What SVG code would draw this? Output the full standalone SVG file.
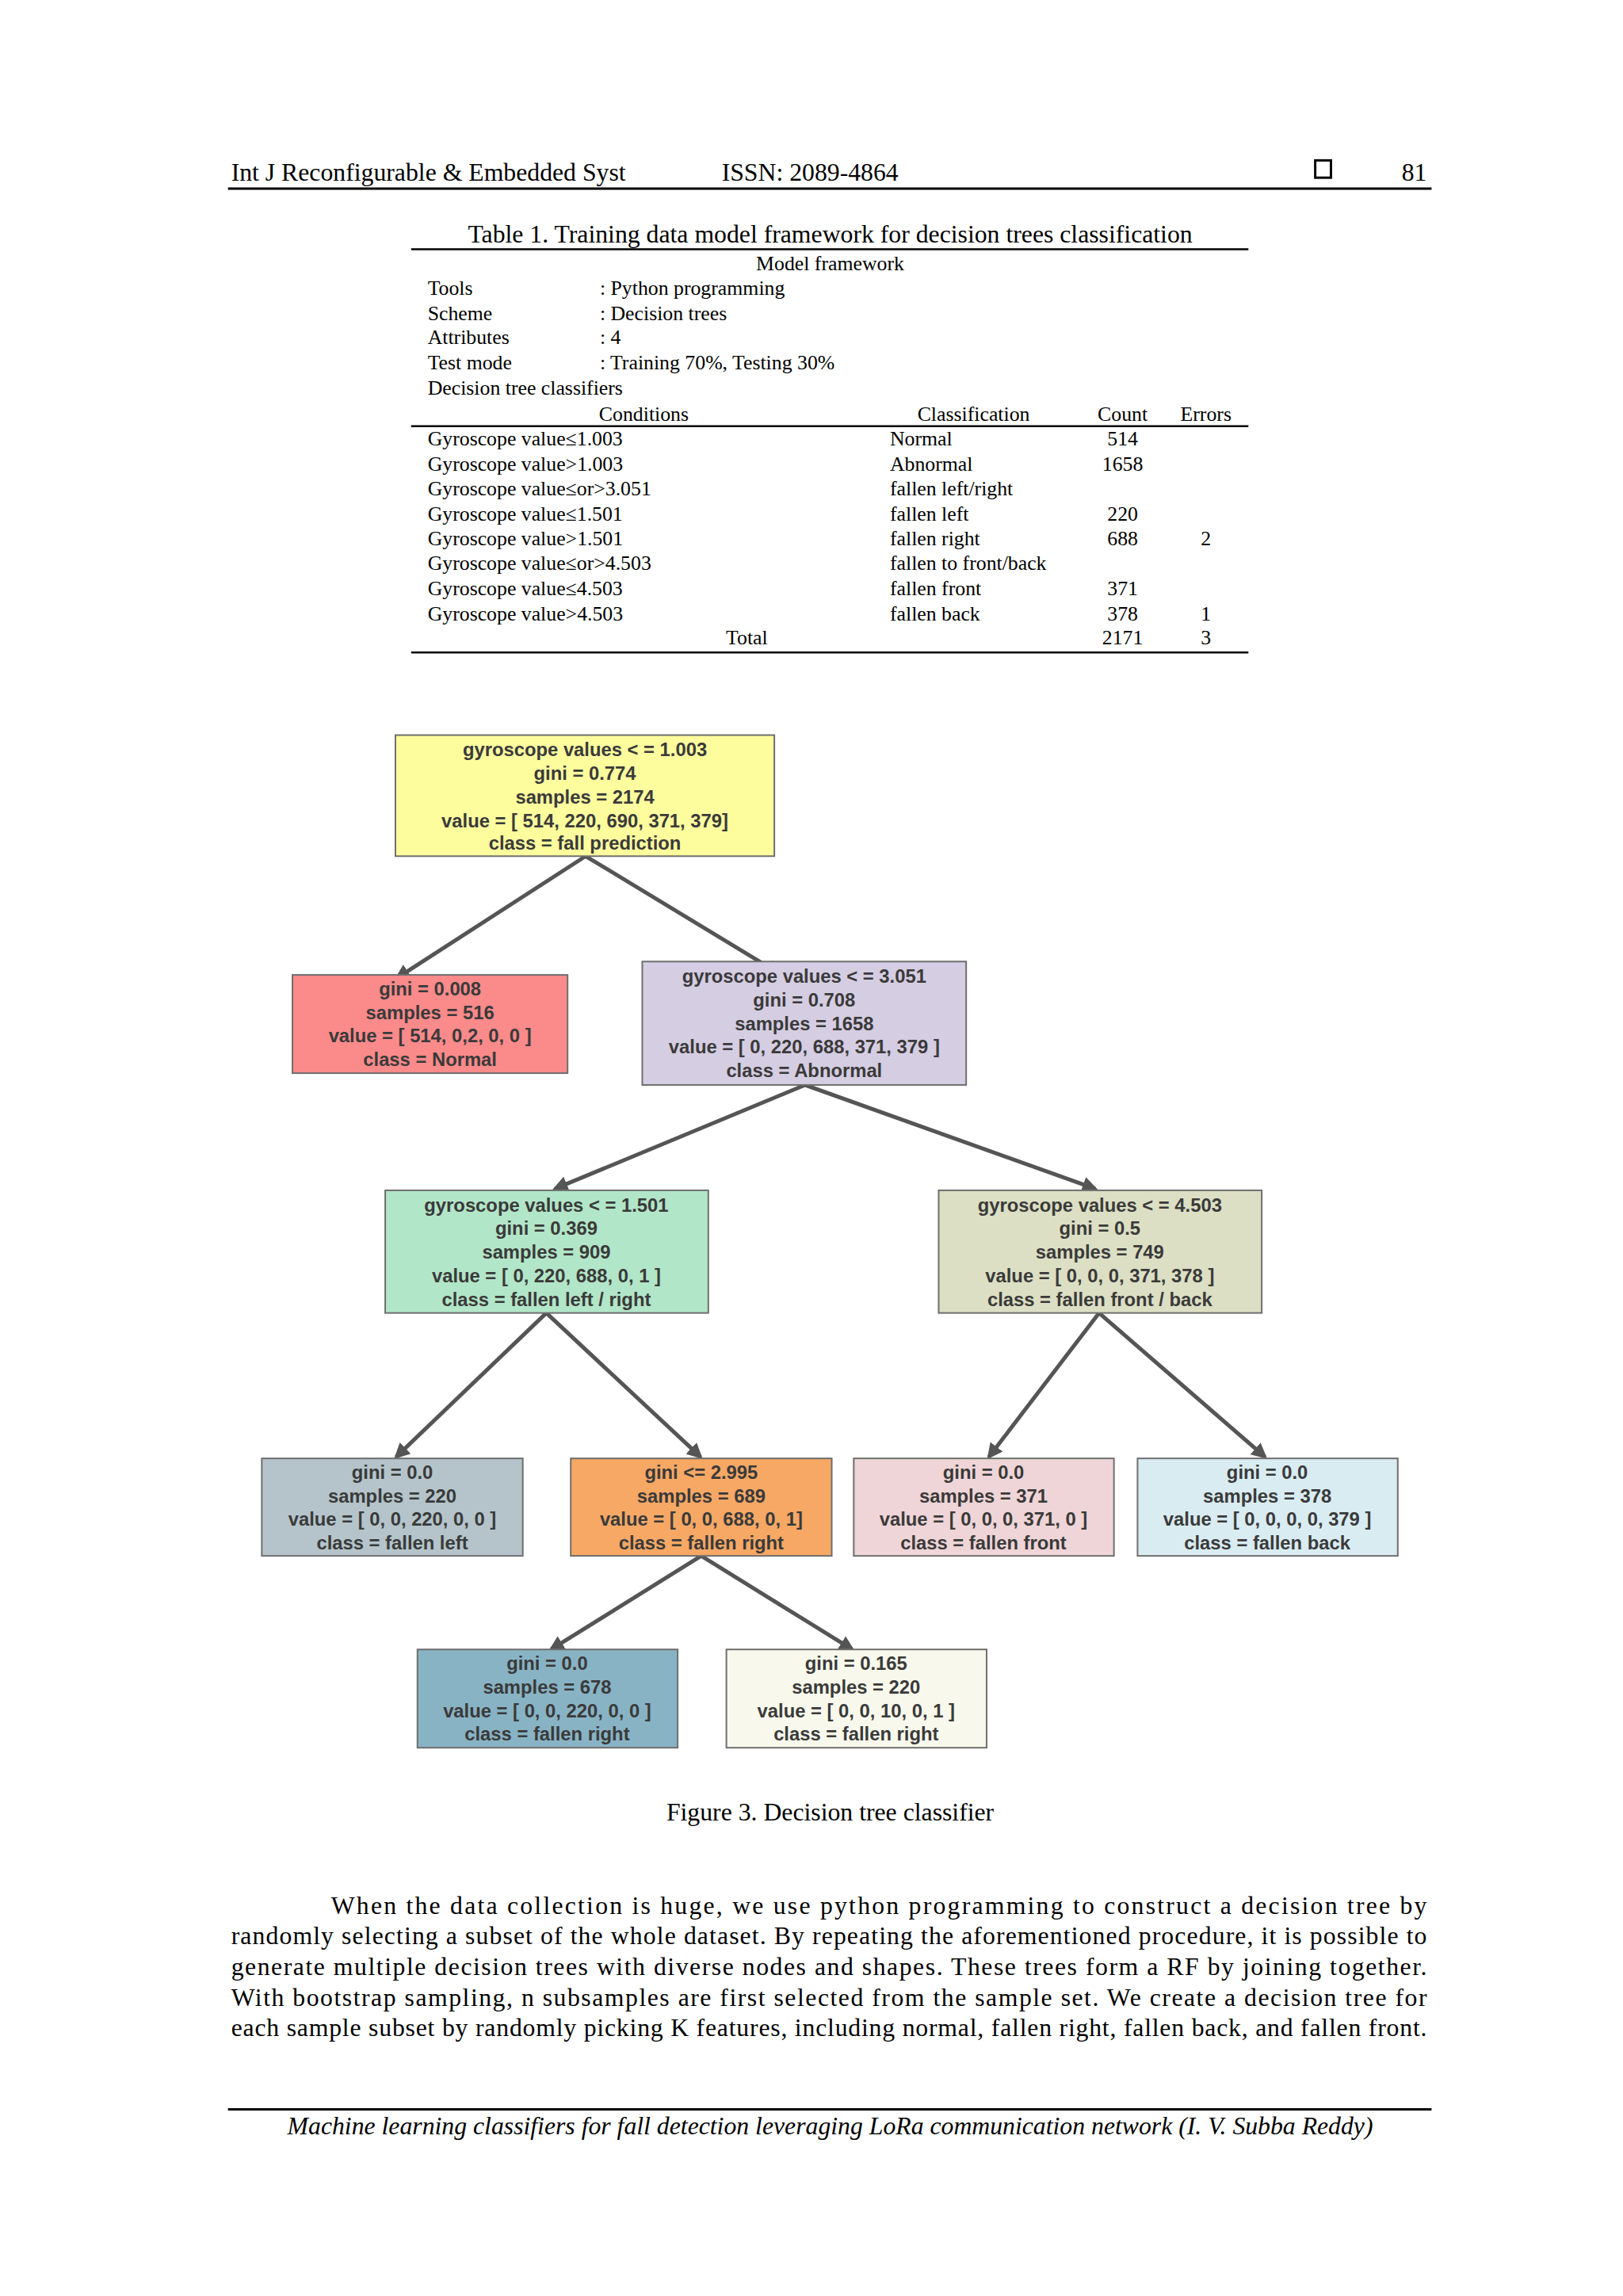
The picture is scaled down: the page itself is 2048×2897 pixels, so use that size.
<svg xmlns="http://www.w3.org/2000/svg" width="2048" height="2897" viewBox="0 0 2048 2897">
<style>
.s{font-family:"Liberation Serif","Times New Roman",serif;fill:#000}
.h{font-size:32px}
.t{font-size:26px}
.n{font-family:"Liberation Sans",Arial,sans-serif;font-size:24px;font-weight:bold;fill:#3a3a3a;text-anchor:middle}
.b{stroke:#6e6e6e;stroke-width:2}
.e{stroke:#555;stroke-width:5;fill:none;marker-end:url(#a)}
</style>
<defs><marker id="a" viewBox="0 0 10 10" refX="8" refY="5" markerWidth="4" markerHeight="4" orient="auto"><path d="M0,0L10,5L0,10z" fill="#555"/></marker></defs>
<rect width="2048" height="2897" fill="#fff"/>
<g transform="scale(0.992)">
<g id="header">
<text class="s h" x="294" y="230">Int J Reconfigurable &amp; Embedded Syst</text>
<text class="s h" x="918" y="230">ISSN: 2089-4864</text>
<rect x="1673" y="204" width="20" height="22" fill="none" stroke="#000" stroke-width="3"/>
<text class="s h" x="1815" y="230" text-anchor="end">81</text>
<line x1="290" y1="240" x2="1821" y2="240" stroke="#000" stroke-width="3"/>
</g>
<g id="table">
<text class="s h" x="1056" y="308" text-anchor="middle">Table 1. Training data model framework for decision trees classification</text>
<line x1="523" y1="317" x2="1588" y2="317" stroke="#000" stroke-width="2.5"/>
<g class="s t">
<text x="1056" y="344" text-anchor="middle">Model framework</text>
<text x="544" y="375">Tools</text><text x="763" y="375">: Python programming</text>
<text x="544" y="407">Scheme</text><text x="763" y="407">: Decision trees</text>
<text x="544" y="438">Attributes</text><text x="763" y="438">: 4</text>
<text x="544" y="470">Test mode</text><text x="763" y="470">: Training 70%, Testing 30%</text>
<text x="544" y="502">Decision tree classifiers</text>
<text x="819" y="535" text-anchor="middle">Conditions</text>
<text x="1167" y="535">Classification</text>
<text x="1428" y="535" text-anchor="middle">Count</text>
<text x="1534" y="535" text-anchor="middle">Errors</text>
</g>
<line x1="523" y1="542" x2="1588" y2="542" stroke="#000" stroke-width="2.5"/>
<g class="s t">
<text x="544" y="567">Gyroscope value≤1.003</text><text x="1132" y="567">Normal</text><text x="1428" y="567" text-anchor="middle">514</text>
<text x="544" y="599">Gyroscope value&gt;1.003</text><text x="1132" y="599">Abnormal</text><text x="1428" y="599" text-anchor="middle">1658</text>
<text x="544" y="630">Gyroscope value≤or&gt;3.051</text><text x="1132" y="630">fallen left/right</text>
<text x="544" y="662">Gyroscope value≤1.501</text><text x="1132" y="662">fallen left</text><text x="1428" y="662" text-anchor="middle">220</text>
<text x="544" y="694">Gyroscope value&gt;1.501</text><text x="1132" y="694">fallen right</text><text x="1428" y="694" text-anchor="middle">688</text><text x="1534" y="694" text-anchor="middle">2</text>
<text x="544" y="725">Gyroscope value≤or&gt;4.503</text><text x="1132" y="725">fallen to front/back</text>
<text x="544" y="757">Gyroscope value≤4.503</text><text x="1132" y="757">fallen front</text><text x="1428" y="757" text-anchor="middle">371</text>
<text x="544" y="789">Gyroscope value&gt;4.503</text><text x="1132" y="789">fallen back</text><text x="1428" y="789" text-anchor="middle">378</text><text x="1534" y="789" text-anchor="middle">1</text>
<text x="950" y="820" text-anchor="middle">Total</text><text x="1428" y="820" text-anchor="middle">2171</text><text x="1534" y="820" text-anchor="middle">3</text>
</g>
<line x1="523" y1="830" x2="1588" y2="830" stroke="#000" stroke-width="2.5"/>
</g>
<g id="connectors">
<line class="e" x1="745" y1="1089" x2="505" y2="1244"/>
<line class="e" x1="745" y1="1089" x2="991" y2="1238"/>
<line class="e" x1="1024" y1="1380" x2="706" y2="1512"/>
<line class="e" x1="1024" y1="1380" x2="1393" y2="1512"/>
<line class="e" x1="695" y1="1670" x2="504" y2="1853"/>
<line class="e" x1="695" y1="1670" x2="891" y2="1853"/>
<line class="e" x1="1398" y1="1670" x2="1258" y2="1853"/>
<line class="e" x1="1398" y1="1670" x2="1609" y2="1853"/>
<line class="e" x1="892" y1="1979" x2="701" y2="2098"/>
<line class="e" x1="892" y1="1979" x2="1084" y2="2098"/>
</g>
<g id="n_root"><rect class="b" x="503" y="935" width="482" height="154" fill="#fdfd9e"/>
<text class="n" x="744" y="962">gyroscope values &lt; = 1.003</text><text class="n" x="744" y="992">gini = 0.774</text><text class="n" x="744" y="1022">samples = 2174</text><text class="n" x="744" y="1052">value = [ 514, 220, 690, 371, 379]</text><text class="n" x="744" y="1081">class = fall prediction</text></g>
<g id="n_normal"><rect class="b" x="372" y="1240" width="350" height="125" fill="#fb8a8a"/>
<text class="n" x="547" y="1266">gini = 0.008</text><text class="n" x="547" y="1296">samples = 516</text><text class="n" x="547" y="1326">value = [ 514, 0,2, 0, 0 ]</text><text class="n" x="547" y="1356">class = Normal</text></g>
<g id="n_abnormal"><rect class="b" x="817" y="1223" width="412" height="157" fill="#d5cde2"/>
<text class="n" x="1023" y="1250">gyroscope values &lt; = 3.051</text><text class="n" x="1023" y="1280">gini = 0.708</text><text class="n" x="1023" y="1310">samples = 1658</text><text class="n" x="1023" y="1340">value = [ 0, 220, 688, 371, 379 ]</text><text class="n" x="1023" y="1370">class = Abnormal</text></g>
<g id="n_lr"><rect class="b" x="490" y="1514" width="411" height="156" fill="#b2e6c8"/>
<text class="n" x="695" y="1541">gyroscope values &lt; = 1.501</text><text class="n" x="695" y="1571">gini = 0.369</text><text class="n" x="695" y="1601">samples = 909</text><text class="n" x="695" y="1631">value = [ 0, 220, 688, 0, 1 ]</text><text class="n" x="695" y="1661">class = fallen left / right</text></g>
<g id="n_fb"><rect class="b" x="1194" y="1514" width="411" height="156" fill="#dcdfc3"/>
<text class="n" x="1399" y="1541">gyroscope values &lt; = 4.503</text><text class="n" x="1399" y="1571">gini = 0.5</text><text class="n" x="1399" y="1601">samples = 749</text><text class="n" x="1399" y="1631">value = [ 0, 0, 0, 371, 378 ]</text><text class="n" x="1399" y="1661">class = fallen front / back</text></g>
<g id="n_left"><rect class="b" x="333" y="1855" width="332" height="124" fill="#b4c4ca"/>
<text class="n" x="499" y="1881">gini = 0.0</text><text class="n" x="499" y="1911">samples = 220</text><text class="n" x="499" y="1941">value = [ 0, 0, 220, 0, 0 ]</text><text class="n" x="499" y="1971">class = fallen left</text></g>
<g id="n_right"><rect class="b" x="726" y="1855" width="332" height="124" fill="#f7a865"/>
<text class="n" x="892" y="1881">gini &lt;= 2.995</text><text class="n" x="892" y="1911">samples = 689</text><text class="n" x="892" y="1941">value = [ 0, 0, 688, 0, 1]</text><text class="n" x="892" y="1971">class = fallen right</text></g>
<g id="n_front"><rect class="b" x="1086" y="1855" width="331" height="124" fill="#efd5d7"/>
<text class="n" x="1251" y="1881">gini = 0.0</text><text class="n" x="1251" y="1911">samples = 371</text><text class="n" x="1251" y="1941">value = [ 0, 0, 0, 371, 0 ]</text><text class="n" x="1251" y="1971">class = fallen front</text></g>
<g id="n_back"><rect class="b" x="1447" y="1855" width="331" height="124" fill="#d9ecf2"/>
<text class="n" x="1612" y="1881">gini = 0.0</text><text class="n" x="1612" y="1911">samples = 378</text><text class="n" x="1612" y="1941">value = [ 0, 0, 0, 0, 379 ]</text><text class="n" x="1612" y="1971">class = fallen back</text></g>
<g id="n_r1"><rect class="b" x="531" y="2098" width="331" height="125" fill="#88b3c4"/>
<text class="n" x="696" y="2124">gini = 0.0</text><text class="n" x="696" y="2154">samples = 678</text><text class="n" x="696" y="2184">value = [ 0, 0, 220, 0, 0 ]</text><text class="n" x="696" y="2214">class = fallen right</text></g>
<g id="n_r2"><rect class="b" x="924" y="2098" width="331" height="125" fill="#f8f9ec"/>
<text class="n" x="1089" y="2124">gini = 0.165</text><text class="n" x="1089" y="2154">samples = 220</text><text class="n" x="1089" y="2184">value = [ 0, 0, 10, 0, 1 ]</text><text class="n" x="1089" y="2214">class = fallen right</text></g>
<g id="caption"><text class="s h" x="1056" y="2316" text-anchor="middle">Figure 3. Decision tree classifier</text></g>
<g id="paragraph" class="s h">
<text x="421" y="2434" textLength="1394" lengthAdjust="spacing">When the data collection is huge, we use python programming to construct a decision tree by</text>
<text x="294" y="2473" textLength="1521" lengthAdjust="spacing">randomly selecting a subset of the whole dataset. By repeating the aforementioned procedure, it is possible to</text>
<text x="294" y="2512" textLength="1521" lengthAdjust="spacing">generate multiple decision trees with diverse nodes and shapes. These trees form a RF by joining together.</text>
<text x="294" y="2551" textLength="1521" lengthAdjust="spacing">With bootstrap sampling, n subsamples are first selected from the sample set. We create a decision tree for</text>
<text x="294" y="2590" textLength="1521" lengthAdjust="spacing">each sample subset by randomly picking K features, including normal, fallen right, fallen back, and fallen front.</text>
</g>
<g id="footer">
<line x1="290" y1="2683" x2="1821" y2="2683" stroke="#000" stroke-width="3"/>
<text class="s h" x="1056" y="2715" text-anchor="middle" font-style="italic">Machine learning classifiers for fall detection leveraging LoRa communication network (I. V. Subba Reddy)</text>
</g>
</g>
</svg>
